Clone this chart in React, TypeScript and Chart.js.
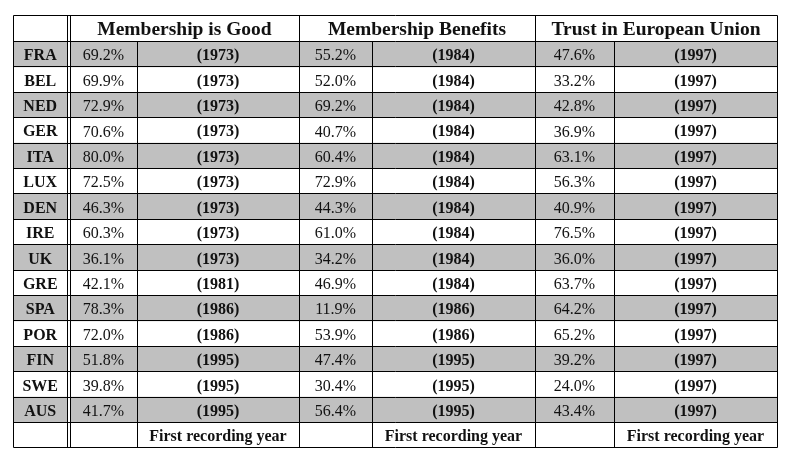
import { useEffect, useRef } from "react";
import { Chart, registerables } from "chart.js";

Chart.register(...registerables);

// ---- data ----
const countries = ["FRA", "BEL", "NED", "GER", "ITA", "LUX", "DEN", "IRE", "UK", "GRE", "SPA", "POR", "FIN", "SWE", "AUS"];
const goodValues = [69.2, 69.9, 72.9, 70.6, 80.0, 72.5, 46.3, 60.3, 36.1, 42.1, 78.3, 72.0, 51.8, 39.8, 41.7];
const goodYears = [1973, 1973, 1973, 1973, 1973, 1973, 1973, 1973, 1973, 1981, 1986, 1986, 1995, 1995, 1995];
const benefitValues = [55.2, 52.0, 69.2, 40.7, 60.4, 72.9, 44.3, 61.0, 34.2, 46.9, 11.9, 53.9, 47.4, 30.4, 56.4];
const benefitYears = [1984, 1984, 1984, 1984, 1984, 1984, 1984, 1984, 1984, 1984, 1986, 1986, 1995, 1995, 1995];
const trustValues = [47.6, 33.2, 42.8, 36.9, 63.1, 56.3, 40.9, 76.5, 36.0, 63.7, 64.2, 65.2, 39.2, 24.0, 43.4];
const trustYears = [1997, 1997, 1997, 1997, 1997, 1997, 1997, 1997, 1997, 1997, 1997, 1997, 1997, 1997, 1997];
const groupTitles = ["Membership is Good", "Membership Benefits", "Trust in European Union"];
const footerLabel = "First recording year";

// ---- layout (table units) ----
const TABLE_W = 764;
const COL_EDGES = [0, 57, 124, 286, 359, 522, 601, 764];
const DOUBLE_GAP = 2.5;
const SERIF = '"Liberation Serif", "Times New Roman", serif';
const GRAY = "#c0c0c0";
const INK = "#111111";

const rowLabels = ["__head", ...countries, "__foot"];

const groups = [
  { values: goodValues, years: goodYears },
  { values: benefitValues, years: benefitYears },
  { values: trustValues, years: trustYears },
];

const tablePlugin = {
  id: "tableGrid",
  afterDatasetsDraw(chart: any) {
    const { ctx, scales } = chart;
    const x = scales.x;
    const y = scales.y;
    const n = rowLabels.length;
    const band = y.getPixelForValue(1) - y.getPixelForValue(0);
    const rowTop = (i: number) => y.getPixelForValue(i) - band / 2;
    const rowMid = (i: number) => y.getPixelForValue(i);
    const X = (v: number) => x.getPixelForValue(v);
    const snap = (p: number) => Math.floor(p) + 0.5;
    const tTop = rowTop(0);
    const tBot = rowTop(n);
    const headBot = rowTop(1);

    ctx.save();
    // white gap inside the double line
    const dA = snap(X(COL_EDGES[1] - DOUBLE_GAP));
    const dB = snap(X(COL_EDGES[1]));
    ctx.fillStyle = "#ffffff";
    ctx.fillRect(dA, tTop, dB - dA, tBot - tTop);

    ctx.strokeStyle = "#000000";
    ctx.lineWidth = 1;
    ctx.beginPath();
    // horizontal lines
    for (let i = 0; i <= n; i++) {
      const py = snap(rowTop(i));
      ctx.moveTo(snap(X(0)), py);
      ctx.lineTo(snap(X(TABLE_W)), py);
    }
    // vertical lines
    const vx = (v: number, from: number, to: number) => {
      const px = snap(X(v));
      ctx.moveTo(px, snap(from));
      ctx.lineTo(px, snap(to));
    };
    vx(0, tTop, tBot);
    vx(TABLE_W, tTop, tBot);
    vx(COL_EDGES[1] - DOUBLE_GAP, tTop, tBot);
    vx(COL_EDGES[1], tTop, tBot);
    vx(COL_EDGES[3], tTop, tBot);
    vx(COL_EDGES[5], tTop, tBot);
    vx(COL_EDGES[2], headBot, tBot);
    vx(COL_EDGES[4], headBot, tBot);
    vx(COL_EDGES[6], headBot, tBot);
    ctx.stroke();

    // texts
    ctx.fillStyle = INK;
    ctx.textAlign = "center";
    ctx.textBaseline = "middle";

    // headers
    ctx.font = `bold 19.5px ${SERIF}`;
    groupTitles.forEach((t, g) => {
      const cx = (X(COL_EDGES[1 + g * 2]) + X(COL_EDGES[3 + g * 2])) / 2;
      ctx.fillText(t, cx, rowMid(0) + 1.5);
    });

    // body
    countries.forEach((c, r) => {
      const my = rowMid(r + 1) + 2;
      ctx.font = `bold 16px ${SERIF}`;
      ctx.fillText(c, (X(0) + X(COL_EDGES[1] - DOUBLE_GAP)) / 2, my);
      groups.forEach((gr, g) => {
        const e0 = COL_EDGES[1 + g * 2];
        const e1 = COL_EDGES[2 + g * 2];
        const e2 = COL_EDGES[3 + g * 2];
        ctx.font = `16px ${SERIF}`;
        ctx.fillText(`${gr.values[r].toFixed(1)}%`, (X(e0) + X(e1)) / 2, my);
        ctx.font = `bold 16px ${SERIF}`;
        ctx.fillText(`(${gr.years[r]})`, (X(e1) + X(e2)) / 2, my);
      });
    });

    // footer
    ctx.font = `bold 16px ${SERIF}`;
    groups.forEach((_, g) => {
      const e1 = COL_EDGES[2 + g * 2];
      const e2 = COL_EDGES[3 + g * 2];
      ctx.fillText(footerLabel, (X(e1) + X(e2)) / 2, rowMid(n - 1) + 2);
    });
    ctx.restore();
  },
};

export default function App() {
  const ref = useRef<HTMLCanvasElement | null>(null);

  useEffect(() => {
    if (!ref.current) return;
    const shade = rowLabels.map((_, i) =>
      i >= 1 && i <= countries.length && i % 2 === 1 ? [0, TABLE_W] : null
    );
    const chart = new Chart(ref.current, {
      type: "bar",
      data: {
        labels: rowLabels,
        datasets: [
          {
            data: shade as any,
            backgroundColor: GRAY,
            borderWidth: 0,
            barPercentage: 1,
            categoryPercentage: 1,
          },
        ],
      },
      options: {
        indexAxis: "y",
        animation: false,
        responsive: false,
        events: [],
        layout: { padding: { left: 5, top: 8, right: 16, bottom: 14 } },
        plugins: { legend: { display: false }, tooltip: { enabled: false } },
        scales: {
          x: { type: "linear", min: 0, max: TABLE_W, display: false },
          y: { type: "category", offset: true, display: false },
        },
      },
      plugins: [tablePlugin],
    });
    return () => chart.destroy();
  }, []);

  return (
    <div style={{ width: 785, height: 454 }}>
      <canvas ref={ref} width={785} height={454} style={{ display: "block" }} />
    </div>
  );
}
